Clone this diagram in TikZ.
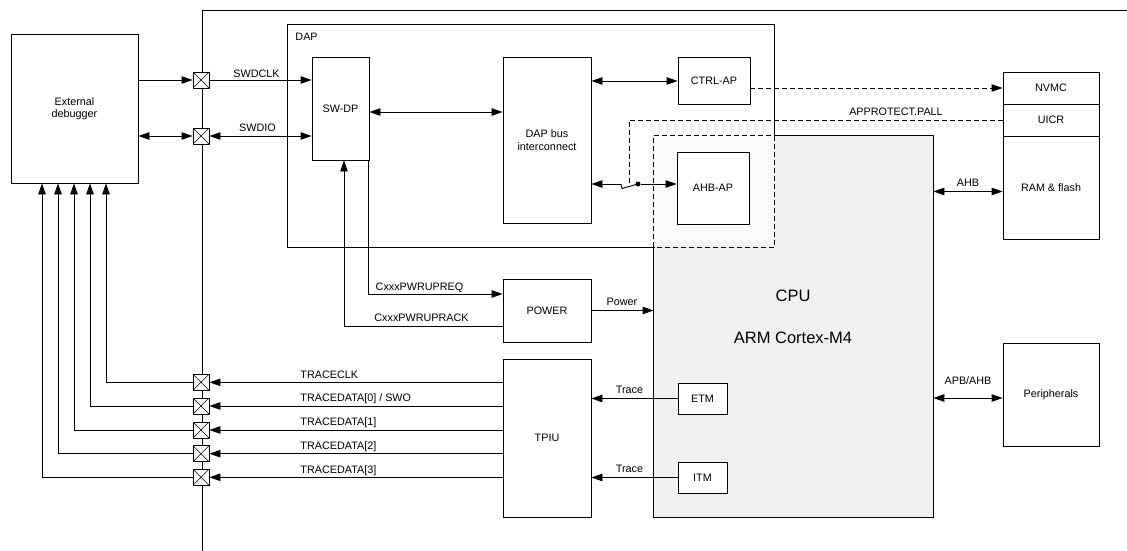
\documentclass[tikz,border=0pt]{standalone}
\usepackage{fontspec}
\setmainfont{Liberation Sans}
\usetikzlibrary{arrows.meta,calc}
\definecolor{cpufill}{HTML}{F0F0F0}
\definecolor{interfill}{HTML}{FAFAFA}
\begin{document}
\begin{tikzpicture}[x=1pt,y=-1pt,line width=0.9pt,
  every node/.style={font=\fontsize{10.8}{12.5}\selectfont},
  box/.style={draw,fill=white,inner sep=0pt,align=center},
  pad/.style={draw,fill=white,minimum size=16pt,inner sep=0pt,
    path picture={\draw[line width=0.6pt] (path picture bounding box.south west)--(path picture bounding box.north east) (path picture bounding box.north west)--(path picture bounding box.south east);}},
  sarr/.style={-{Triangle[length=11pt,width=7.5pt]}},
  darr/.style={{Triangle[length=11pt,width=7.5pt]}-{Triangle[length=11pt,width=7.5pt]}},
  dsh/.style={dash pattern=on 5pt off 3pt},
  lbl/.style={anchor=base,inner sep=0pt},
  lbll/.style={anchor=base west,inner sep=0pt}]
\useasboundingbox (0,0) rectangle (1127,551);

% chip boundary
\coordinate (cb) at (202,551);
\coordinate (ct) at (202,10);
\coordinate (cr) at (1127,10);
\draw (cb) -- (ct) -- (cr);

% CPU and DAP regions
\node[fill=cpufill,minimum width=279pt,minimum height=381pt,inner sep=0pt] (cpu) at (793.5,326.5) {};
\node[minimum width=486pt,minimum height=222pt,inner sep=0pt] (dap) at (531,136) {};
\fill[interfill] (cpu.north west) rectangle (dap.south east);
\draw (cpu.west |- dap.south) -- (dap.south west) -- (dap.north west) -- (dap.north east) -- (cpu.north west -| dap.east);
\draw[dsh] (cpu.north west -| dap.east) -- (dap.south east) -- (cpu.west |- dap.south);
\draw (cpu.north west -| dap.east) -- (cpu.north east) -- (cpu.south east) -- (cpu.south west) -- (cpu.west |- dap.south);
\draw[dsh] (cpu.west |- dap.south) -- (cpu.north west) -- (cpu.north west -| dap.east);
\node[lbll] (daplbl) at (295,40.7) {DAP};
\node[font=\fontsize{16.5}{18}\selectfont] (cputxt) at (793,296) {CPU};
\node[font=\fontsize{16.5}{18}\selectfont] (armtxt) at (793,338) {ARM Cortex-M4};

% boxes
\node[box,minimum width=127pt,minimum height=149pt] (dbg) at (74.5,108.5) {External\\debugger};
\node[box,minimum width=57pt,minimum height=103pt] (swdp) at (340.5,108.5) {SW-DP};
\node[box,minimum width=88pt,minimum height=166pt] (bus) at (547,140) {DAP bus\\interconnect};
\node[box,minimum width=72pt,minimum height=47pt] (ctrl) at (714,80.5) {CTRL-AP};
\node[box,minimum width=72pt,minimum height=72pt] (ahb) at (713,188) {AHB-AP};
\node[box,minimum width=96pt,minimum height=32pt] (nvmc) at (1051,88) {NVMC};
\node[box,minimum width=96pt,minimum height=32pt] (uicr) at (1051,120) {UICR};
\node[box,minimum width=96pt,minimum height=103pt] (ram) at (1051,187.5) {RAM \& flash};
\node[box,minimum width=88pt,minimum height=63pt] (power) at (547,310.5) {POWER};
\node[box,minimum width=88pt,minimum height=158pt] (tpiu) at (547,438) {TPIU};
\node[box,minimum width=49pt,minimum height=31pt] (etm) at (702.5,398.5) {ETM};
\node[box,minimum width=49pt,minimum height=31pt] (itm) at (702.5,477.5) {ITM};
\node[box,minimum width=96pt,minimum height=103pt] (per) at (1051,394.5) {Peripherals};

% pads
\node[pad] (pclk) at (201,80) {};
\node[pad] (pio) at (201,136) {};
\node[pad] (t0) at (201,382.3) {};
\node[pad] (t1) at (201,406) {};
\node[pad] (t2) at (201,430) {};
\node[pad] (t3) at (201,453.7) {};
\node[pad] (t4) at (201,477.3) {};

% serial wire
\draw[sarr] (dbg.east |- pclk) -- (pclk.west);
\draw[sarr] (pclk.east) -- (swdp.west |- pclk);
\draw[darr] (dbg.east |- pio) -- (pio.west);
\draw[darr] (pio.east) -- (swdp.west |- pio);
\node[lbl] (lclk) at (256.5,77.7) {SWDCLK};
\node[lbl] (lio) at (257.5,131.7) {SWDIO};

% DAP internals
\coordinate (yb) at (0,112);
\draw[darr] (swdp.east |- yb) -- (bus.west |- yb);
\coordinate (yc) at (0,81);
\draw[darr] (bus.east |- yc) -- (ctrl.west |- yc);
\draw[sarr,dsh] (ctrl.east |- nvmc) -- (nvmc.west);

% switch to AHB-AP
\coordinate (ys) at (0,184);
\coordinate (sw1) at (621,184);
\coordinate (sw2) at (622,188.5);
\node[circle,fill,inner sep=0pt,minimum size=5pt] (dot) at (638,184) {};
\draw[sarr] (sw1) -- (bus.east |- ys);
\draw (sw1) -- (sw2) -- (dot.center);
\draw[sarr] (dot) -- (ahb.west |- dot);
\coordinate (ap) at (629,120);
\coordinate (apend) at (629,186.5);
\draw[dsh] (uicr.west) -- (ap) -- (apend);
\node[lbl] (aplbl) at (896,115.5) {APPROTECT.PALL};

% buses
\coordinate (ya) at (0,191.5);
\draw[darr] (cpu.east |- ya) -- (ram.west |- ya);
\node[lbl] (ahblbl) at (968,186.5) {AHB};
\coordinate (yp) at (0,398);
\draw[darr] (cpu.east |- yp) -- (per.west |- yp);
\node[lbl] (apblbl) at (968,384.5) {APB/AHB};

% power
\coordinate (rq) at (368,294);
\draw[sarr] (swdp.south -| rq) -- (rq) -- (power.west |- rq);
\coordinate (ra) at (344,326.5);
\draw[sarr] (power.west |- ra) -- (ra) -- (swdp.south -| ra);
\node[lbl] (rqlbl) at (419.5,290.7) {CxxxPWRUPREQ};
\node[lbl] (ralbl) at (421.5,321.7) {CxxxPWRUPRACK};
\draw[sarr] (power.east) -- (cpu.west |- power.east);
\node[lbl] (pwlbl) at (622,305.5) {Power};

% trace
\draw[sarr] (etm.west) -- (tpiu.east |- etm);
\draw[sarr] (itm.west) -- (tpiu.east |- itm);
\node[lbl] (tr1) at (629.5,393) {Trace};
\node[lbl] (tr2) at (629.5,472.7) {Trace};

\coordinate (c0) at (106,0);
\coordinate (c1) at (90,0);
\coordinate (c2) at (74,0);
\coordinate (c3) at (58,0);
\coordinate (c4) at (42,0);
\foreach \p in {0,...,4} {
  \draw[sarr] (tpiu.west |- t\p) -- (t\p.east);
  \draw[sarr] (t\p.west) -- (c\p |- t\p) -- (c\p |- dbg.south);
}
\node[lbll] (l0) at (300,378) {TRACECLK};
\node[lbll] (l1) at (300,401.5) {TRACEDATA[0] / SWO};
\node[lbll] (l2) at (300,425.5) {TRACEDATA[1]};
\node[lbll] (l3) at (300,449.5) {TRACEDATA[2]};
\node[lbll] (l4) at (300,473) {TRACEDATA[3]};
\end{tikzpicture}
\end{document}
